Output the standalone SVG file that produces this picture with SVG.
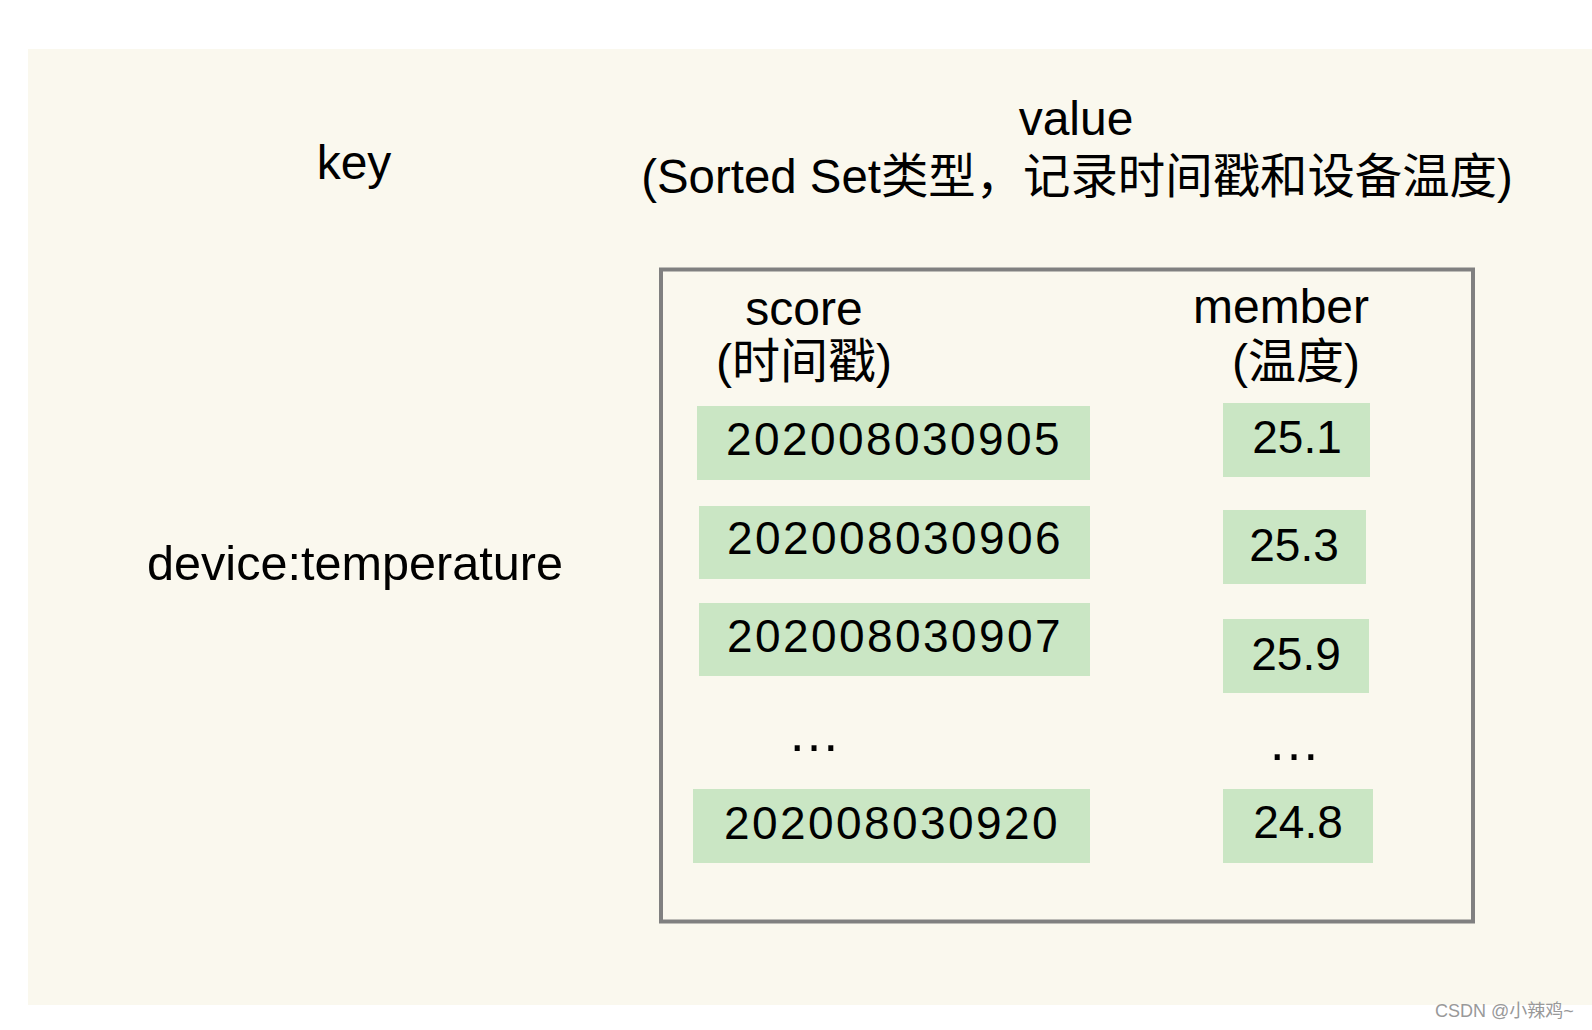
<svg xmlns="http://www.w3.org/2000/svg" width="1592" height="1030" viewBox="0 0 1592 1030">
  <style>
    .t { font-family: "Liberation Sans", "Noto Sans CJK SC", Arial, sans-serif; fill: #000; }
    .h { font-size: 48px; text-anchor: middle; }
    .num { font-size: 46px; text-anchor: middle; }
    .sc { letter-spacing: 2.4px; }
    .cell { fill: #CAE6C4; }
    .dots { font-size: 53px; text-anchor: middle; }
  </style>
  <rect x="0" y="0" width="1592" height="1030" fill="#FFFFFF"/>
  <rect id="background" x="28" y="49" width="1564" height="956" fill="#FAF8EE"/>

  <g id="key-label">
    <text class="t h" x="354" y="179">key</text>
  </g>
  <g id="key-name">
    <text class="t h" x="355" y="580" style="font-size:48.6px">device:temperature</text>
  </g>
  <g id="value-label">
    <text class="t h" x="1076" y="135">value</text>
    <text class="t h" x="1077" y="193" style="font-size:47.4px">(Sorted Set类型，记录时间戳和设备温度)</text>
  </g>

  <g id="sorted-set">
    <rect x="661" y="269.5" width="812" height="652" fill="none" stroke="#808080" stroke-width="4"/>
  </g>

  <g id="score-header">
    <text class="t h" x="804" y="325">score</text>
    <text class="t h" x="804" y="378">(时间戳)</text>
  </g>
  <g id="member-header">
    <text class="t h" x="1281" y="323">member</text>
    <text class="t h" x="1296" y="378">(温度)</text>
  </g>

  <g id="score-1">
    <rect class="cell" x="697" y="406" width="393" height="74"/>
    <text class="t num sc" x="894" y="455">202008030905</text>
  </g>
  <g id="score-2">
    <rect class="cell" x="699" y="506" width="391" height="73"/>
    <text class="t num sc" x="895" y="554">202008030906</text>
  </g>
  <g id="score-3">
    <rect class="cell" x="699" y="603" width="391" height="73"/>
    <text class="t num sc" x="895" y="652">202008030907</text>
  </g>
  <g id="score-dots">
    <text class="t dots" x="814" y="751">…</text>
  </g>
  <g id="score-4">
    <rect class="cell" x="693" y="789" width="397" height="74"/>
    <text class="t num sc" x="892" y="839">202008030920</text>
  </g>

  <g id="member-1">
    <rect class="cell" x="1223" y="403" width="147" height="74"/>
    <text class="t num" x="1297" y="453">25.1</text>
  </g>
  <g id="member-2">
    <rect class="cell" x="1223" y="510" width="143" height="74"/>
    <text class="t num" x="1294" y="561">25.3</text>
  </g>
  <g id="member-3">
    <rect class="cell" x="1223" y="619" width="146" height="74"/>
    <text class="t num" x="1296" y="670">25.9</text>
  </g>
  <g id="member-dots">
    <text class="t dots" x="1294" y="760">…</text>
  </g>
  <g id="member-4">
    <rect class="cell" x="1223" y="789" width="150" height="74"/>
    <text class="t num" x="1298" y="838">24.8</text>
  </g>

  <g id="connectors"></g>

  <g id="watermark">
    <text x="1435" y="1017" font-family="Liberation Sans, Noto Sans CJK SC, sans-serif" font-size="18" fill="#999999">CSDN @小辣鸡~</text>
  </g>
</svg>
